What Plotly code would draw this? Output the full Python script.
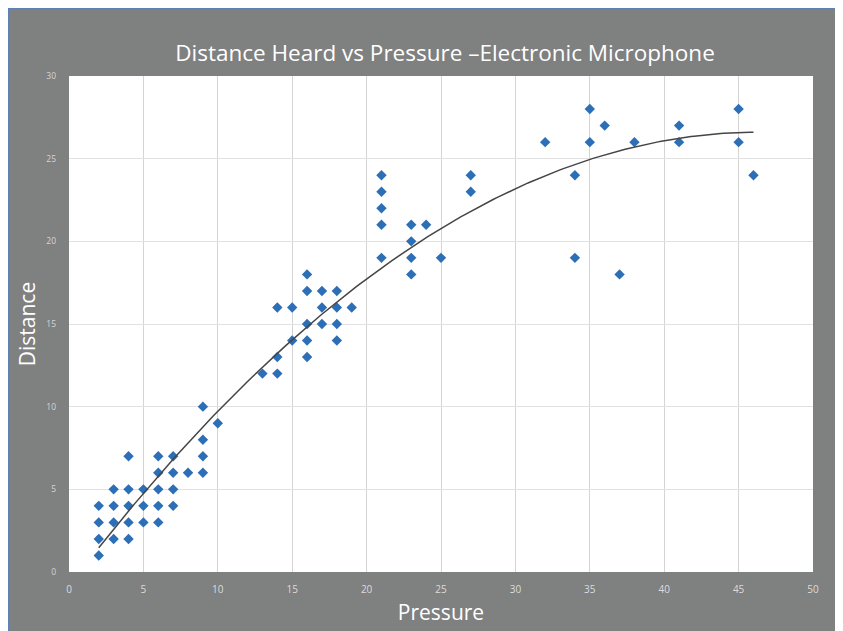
import numpy as np
import plotly.graph_objects as go

# Data
pressure = [2, 2, 2, 2,
            3, 3, 3, 3,
            4, 4, 4, 4, 4,
            5, 5, 5,
            6, 6, 6, 6, 6,
            7, 7, 7, 7,
            8,
            9, 9, 9, 9,
            10,
            13,
            14, 14, 14,
            15, 15,
            16, 16, 16, 16, 16,
            17, 17, 17,
            18, 18, 18, 18,
            19,
            21, 21, 21, 21, 21,
            23, 23, 23, 23,
            24,
            25,
            27, 27,
            32,
            34, 34,
            35, 35,
            36,
            37,
            38,
            41, 41,
            45, 45,
            46]
distance = [1, 2, 3, 4,
            2, 3, 4, 5,
            2, 3, 4, 5, 7,
            3, 4, 5,
            3, 4, 5, 6, 7,
            4, 5, 6, 7,
            6,
            6, 7, 8, 10,
            9,
            12,
            12, 13, 16,
            14, 16,
            13, 14, 15, 17, 18,
            15, 16, 17,
            14, 15, 16, 17,
            16,
            19, 21, 22, 23, 24,
            18, 19, 20, 21,
            21,
            19,
            23, 24,
            26,
            19, 24,
            26, 28,
            27,
            18,
            26,
            26, 27,
            26, 28,
            24]

# Trendline values (polynomial, order 2)
trend_x = [2, 5, 10, 15, 20, 25, 30, 35, 40, 46]
trend_y = [1.47, 4.9, 9.64, 13.8, 17.8, 20.83, 23.25, 24.96, 26.13, 26.53]

x_ticks = [0, 5, 10, 15, 20, 25, 30, 35, 40, 45, 50]
y_ticks = [0, 5, 10, 15, 20, 25, 30]

title_text = "Distance Heard vs Pressure \u2013Electronic Microphone"
x_title = "Pressure"
y_title = "Distance"

coef = np.polyfit(trend_x, trend_y, 2)
xs = np.linspace(min(trend_x), max(trend_x), 200)
ys = np.polyval(coef, xs)

# the page places the figure at an 8px offset (default body margin)
W, H = 843, 631
ml, mr, mt, mb = 61, 38, 68, 67
pw, ph = W - ml - mr, H - mt - mb

def px(xp):
    return (xp - ml) / pw

def py(yp):
    return 1 - (yp - mt) / ph

GRAY = "#7f8080"
FONT = "Open Sans"

fig = go.Figure()
fig.add_trace(go.Scatter(
    x=pressure, y=distance, mode="markers",
    marker=dict(symbol="diamond", size=8, color="#2d6fb6",
                line=dict(width=0)),
    showlegend=False, hoverinfo="x+y"))
fig.add_trace(go.Scatter(
    x=xs, y=ys, mode="lines",
    line=dict(color="#454545", width=1.5),
    showlegend=False, hoverinfo="skip"))

fig.update_layout(
    width=W, height=H,
    margin=dict(l=ml, r=mr, t=mt, b=mb, pad=0),
    paper_bgcolor=GRAY, plot_bgcolor="white",
    title=dict(text=title_text, x=437 / W, xanchor="center",
               y=1 - 45 / H, yanchor="middle",
               font=dict(family=FONT, size=22.5, color="white")),
    xaxis=dict(range=[0, 50], tickvals=x_ticks,
               ticktext=[str(t) for t in x_ticks],
               showgrid=True, gridcolor="#d4d4d4", gridwidth=1,
               zeroline=False, showline=False, ticks="",
               ticklabelstandoff=10,
               tickfont=dict(family=FONT, size=10, color="#dcdcdc"),
               title=dict(text=x_title, standoff=10,
                          font=dict(family=FONT, size=21, color="white"))),
    yaxis=dict(range=[0, 30], tickvals=y_ticks,
               ticktext=[str(t) for t in y_ticks],
               showgrid=True, gridcolor="#e2e2e2", gridwidth=1,
               zeroline=False, showline=False, ticks="",
               ticklabelstandoff=12,
               tickfont=dict(family=FONT, size=8.5, color="#d6d6d6"),
               title=dict(text=y_title, standoff=4,
                          font=dict(family=FONT, size=21, color="white"))),
    shapes=[
        # thin blue border of the panel (top and left)
        dict(type="line", xref="paper", yref="paper",
             x0=px(0), x1=px(W), y0=py(0.5), y1=py(0.5),
             line=dict(color="#5b82b5", width=1.5), layer="above"),
        dict(type="line", xref="paper", yref="paper",
             x0=px(0.5), x1=px(0.5), y0=py(0), y1=py(H),
             line=dict(color="#5b82b5", width=1.5), layer="above"),
    ],
)

fig.write_html(
    "out.html",
    post_script="document.documentElement.style.overflow='hidden';"
                "document.body.style.overflow='hidden';")
